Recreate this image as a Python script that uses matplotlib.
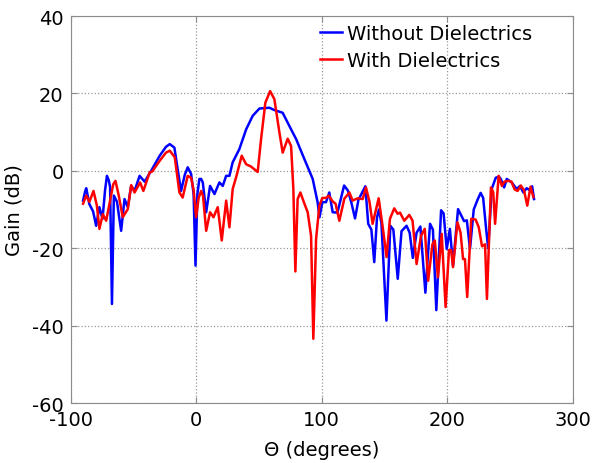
import matplotlib
matplotlib.use("Agg")
import matplotlib.pyplot as plt

plt.rcParams['axes.unicode_minus'] = False
plt.rcParams['font.family'] = 'DejaVu Sans'

# Gain without dielectrics (theta in degrees, gain in dB)
theta_wo = [-90, -88.5, -87.5, -85, -82, -79.6, -77, -74.5, -72.5, -71, -69.5, -68.5,
            -67, -65.5, -63, -59.7, -57, -54.4, -51.7, -49, -45, -41, -35.8, -29,
            -24, -21, -17.3, -14.5, -12, -9, -6.7, -4, -2, -0.5, 1, 2.6, 4, 5.3,
            8, 11.1, 14.6, 18.5, 21.2, 23.9, 26.5, 29.1, 34.4, 39.8, 45, 50.4,
            58.3, 62.3, 68.9, 74.2, 79.6, 86.2, 92.8, 96.7, 98.2, 100.5, 103.4,
            106, 108.7, 112.5, 117.8, 120.8, 123.5, 126.5, 129.2, 134.7, 137,
            139.5, 141.8, 144, 145.5, 147.5, 151.5, 154.6, 157, 160.5, 163.5,
            167.5, 170, 172.5, 175.5, 178.5, 182.5, 186.2, 188.5, 191.2, 195,
            197, 199.5, 202, 204.5, 208.5, 211, 213.3, 215.5, 218, 221, 224,
            226.5, 228.5, 231, 232.5, 235.3, 238.5, 241, 242.5, 245.2, 247.3,
            251.2, 255.2, 257.8, 260.5, 263.1, 265.7, 267.5, 269]
gain_wo = [-7.7, -5.5, -4.5, -8.6, -10.5, -14.2, -9.4, -12.4, -5, -1.3, -2.5, -4.2,
           -34.4, -6.4, -8, -15.5, -7.3, -9.4, -3.9, -5.2, -1.3, -2.8, 0, 3.9,
           6.2, 6.9, 6.0, 0, -5.2, -1, 0.9, -0.8, -6, -24.5, -6, -2.1, -2.1, -3.0,
           -10.7, -3.9, -6.0, -3.0, -3.9, -1.3, -1.3, 2.2, 5.6, 10.7, 14.2, 16.1,
           16.3, 15.7, 15.0, 11.6, 8.2, 3.0, -2.1, -8.1, -12, -8.1, -8.1,
           -5.6, -10.7, -10.8, -3.8, -5.1, -8.1, -12.3, -7.5, -4.0, -13.7,
           -15.2, -23.6, -12, -10, -13.5, -38.7, -14.2, -15.2, -27.9, -15.6,
           -14.2, -16, -22.5, -16, -14.4, -31.5, -13.7, -15.2, -36, -10.2,
           -11, -20.2, -15, -24.5, -9.9, -11.5, -13, -12.8, -20.2, -10, -7.5,
           -5.7, -7, -15.5, -20, -4.7, -1.8, -1.5, -2.1, -4.3, -2.1,
           -3.0, -4.7, -3.9, -5.6, -4.5, -5.0, -4, -7.3]

# Gain with dielectrics
theta_w = [-90, -87.5, -85, -81.7, -79, -77, -74.3, -71.6, -68.5, -66, -64.2, -61.6,
           -58.4, -54.4, -51.7, -49, -44.6, -42, -37, -35, -29, -24, -21, -17,
           -13.3, -10.7, -6.7, -4, -2, 0, 2, 4, 5.5, 8, 11.1, 13.8, 17.2, 20.4,
           23.9, 26.5, 29.1, 31.8, 36.3, 39.8, 43.7, 49, 51.7, 55.1, 58.9, 62.3,
           66.3, 68.9, 72.9, 75.6, 77.4, 79, 80.8, 83, 86.2, 88.8, 91.5, 93.3,
           95.5, 98.1, 100.5, 103.4, 105.5, 108.7, 111, 114, 118, 122, 124.6,
           128.6, 132.6, 135.2, 138, 140.5, 145.3, 148.4, 151.6, 154.3, 157.7,
           160.4, 162.3, 165.7, 169.7, 172.3, 175.5, 179, 182, 184.7, 188.1,
           190, 192.5, 195.5, 198.6, 201.3, 203, 204.5, 208, 210.5, 212.5, 214,
           215.8, 219, 222.5, 225, 227.6, 230, 231.5, 234.7, 236.5, 238, 240.8,
           243.4, 245.5, 248.6, 251, 253.5, 255.9, 258.5, 261, 263.6, 266.2, 268.5]
gain_w = [-8.5, -6.4, -8, -5.2, -9, -15, -11.2, -12.9, -7.7, -3.5, -2.6, -6.4,
          -12, -9.9, -3.7, -5.6, -3.0, -5.2, -0.4, -0.2, 2.6, 4.7, 5.2, 3.5,
          -5.6, -6.9, -1.3, -1.8, -5, -12, -7, -5.2, -6.5, -15.5, -10.7, -12, -9.4, -18,
          -7.7, -14.6, -4.7, -1.7, 3.9, 1.7, 1.1, -0.3, 8.2, 17.6, 20.6, 18.5,
          9.9, 4.7, 8.3, 6.4, -4.7, -26, -7.3, -5.6, -8.5, -10.7, -16.8, -43.4,
          -17.6, -9.0, -7.0, -7.0, -6.4, -7.9, -8.5, -12.9, -7.2, -5.6, -7.7,
          -7.1, -7.3, -4.3, -8, -13.7, -7.1, -14.2, -22.3, -12.4, -9.7,
          -11.1, -10.8, -12.9, -11.4, -12.9, -24.1, -16.8, -15, -28.4, -19.0,
          -18, -27.5, -16.3, -35.2, -20.5, -20.5, -24.9, -13.3, -16, -22.8, -22.8,
          -32.6, -12.4, -12.6, -14.6, -19.5, -19, -33.1, -4.3, -5.5, -13.7, -1.3,
          -3.9, -2.8, -2.6, -2.8, -4.8, -5.2, -3.8, -5, -9, -4.1, -6.8]

fig = plt.figure(figsize=(5.95, 4.64), dpi=100)
ax = fig.add_axes([0.1185, 0.1293, 0.8445, 0.834])

ax.plot(theta_wo, gain_wo, color='#0000ff', lw=1.8, label='Without Dielectrics')
ax.plot(theta_w, gain_w, color='#ff0000', lw=1.8, label='With Dielectrics')

ax.set_xlim(-100, 300)
ax.set_ylim(-60, 40)
ax.set_xticks([-100, 0, 100, 200, 300])
ax.set_yticks([-60, -40, -20, 0, 20, 40])
ax.grid(True, linestyle=':', color='#999999', linewidth=0.9)

for s in ax.spines.values():
    s.set_color('#8c8c8c')
ax.tick_params(direction='in', colors='#8c8c8c', labelcolor='black',
               labelsize=14, top=True, right=True, pad=5, length=4)

ax.set_xlabel('\u0398 (degrees)', fontsize=14, labelpad=8)
ax.set_ylabel('Gain (dB)', fontsize=14, labelpad=6)

ax.legend(loc='upper left', bbox_to_anchor=(0.496, 0.98), frameon=False,
          fontsize=14, handlelength=1.15, handletextpad=0.25, borderpad=0,
          borderaxespad=0, labelspacing=0.4)

fig.savefig('out.png', dpi=100)
